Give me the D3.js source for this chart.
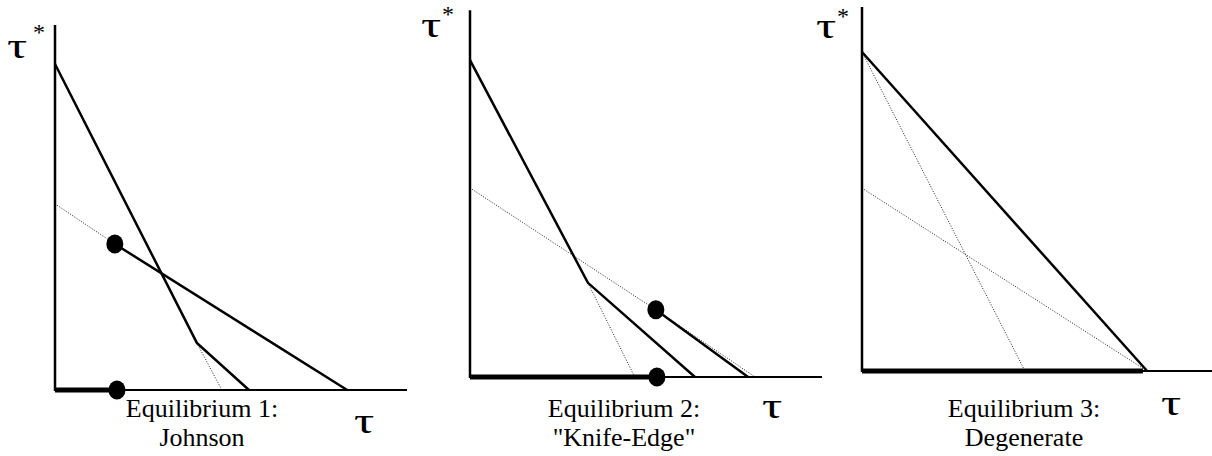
<!DOCTYPE html>
<html>
<head>
<meta charset="utf-8">
<script src="https://cdn.jsdelivr.net/npm/d3@7"></script>
<style>
  html, body { margin: 0; padding: 0; background: #fff; }
  svg { display: block; }
</style>
</head>
<body>
<div id="vis"></div>
<script>
const svgWidth = 1212;
const svgHeight = 456;
const FONT = '"Liberation Serif"';

// captions under each panel
const captionTop = ['Equilibrium 1:', 'Equilibrium 2:', 'Equilibrium 3:'];
const captionBottom = ['Johnson', '"Knife-Edge"', 'Degenerate'];

// height of the vertical axis (data units, 0..100 scale)
const axisTops = [100, 100.5, 99.7];

// solid best-response lines, per panel
const solidLines = [
  [[[0, 89.3], [40.3, 12.9], [55.1, 0]], [[17.0, 40.0], [83.0, 0]]],
  [[[0, 86.8], [33.5, 25.8], [63.9, 0]], [[52.8, 18.4], [79.0, 0]]],
  [[[0, 87.4], [81.0, 0]]],
];

// dotted lines, per panel
const dottedLines = [
  [[[0, 51.0], [17.0, 40.0]], [[40.3, 12.9], [47.4, 0]], [[60, 14.2], [83.0, 0]]],
  [[[0, 51.8], [52.8, 18.4]], [[33.5, 25.8], [46.8, 0]], [[52.8, 18.4], [81.0, 0]]],
  [[[0, 87.4], [46.3, 0]], [[0, 50.1], [81.0, 0]]],
];

// thick segment on the tau axis (end value)
const thickEnds = [17.6, 53.1, 79.8];

// equilibrium dots, per panel
const dots = [
  [[17.0, 40.0], [17.6, 0]],
  [[52.8, 18.4], [53.1, 0]],
  [],
];

// where each panel's origin sits on the page
const panelOrigins = [[55, 390], [470, 377], [862, 371]];
const captionX = [202, 624, 1024];
const tauLabel = [[354, 433], [762, 418], [1161, 415]];
const tauYLabel = [[7, 58], [421, 37], [816, 38]];
const starLabel = [[33, 40], [442, 22], [837, 24]];

const x = d3.scaleLinear().domain([0, 100]).range([0, 352]);
const y = d3.scaleLinear().domain([0, 100]).range([365, 0]);

const line = d3.line().x((d) => x(d[0])).y((d) => y(d[1]));

const svg = d3.select('#vis').append('svg')
  .attr('width', svgWidth)
  .attr('height', svgHeight);

// tau is drawn a bit wider, like the symbol font of the original
const addTau = (pos) =>
  svg.append('text')
    .attr('transform', `translate(${pos[0]},${pos[1]}) scale(1.4,1)`)
    .style('font-family', FONT)
    .style('font-size', '36px')
    .text('τ');

panelOrigins.forEach(([ox, oy], i) => {
  const g = svg.append('g').attr('transform', `translate(${ox},${oy - 365})`);

  // dotted guides first so the solid lines sit on top
  g.selectAll('path.dotted')
    .data(dottedLines[i])
    .join('path')
    .attr('class', 'dotted')
    .attr('d', line)
    .attr('fill', 'none')
    .attr('stroke', '#222')
    .attr('stroke-width', 1)
    .attr('stroke-dasharray', '1,1.6');

  // axes
  g.append('line')
    .attr('x1', x(0)).attr('x2', x(0))
    .attr('y1', y(0) + 1).attr('y2', y(axisTops[i]))
    .attr('stroke', '#000').attr('stroke-width', 2.5);
  g.append('line')
    .attr('x1', x(0)).attr('x2', x(100))
    .attr('y1', y(0)).attr('y2', y(0))
    .attr('stroke', '#000').attr('stroke-width', 2);

  // thick part of the tau axis
  g.append('line')
    .attr('x1', x(0)).attr('x2', x(thickEnds[i]))
    .attr('y1', y(0)).attr('y2', y(0))
    .attr('stroke', '#000').attr('stroke-width', 5);

  g.selectAll('path.solid')
    .data(solidLines[i])
    .join('path')
    .attr('class', 'solid')
    .attr('d', line)
    .attr('fill', 'none')
    .attr('stroke', '#000')
    .attr('stroke-width', 2.5);

  g.selectAll('ellipse')
    .data(dots[i])
    .join('ellipse')
    .attr('cx', (d) => x(d[0]))
    .attr('cy', (d) => y(d[1]))
    .attr('rx', 8.5)
    .attr('ry', 9.5)
    .attr('fill', '#000');

  // captions
  const cap = svg.append('text')
    .attr('x', captionX[i])
    .attr('y', 417)
    .attr('text-anchor', 'middle')
    .style('font-family', FONT)
    .style('font-size', '26px');
  cap.append('tspan').attr('x', captionX[i]).text(captionTop[i]);
  cap.append('tspan').attr('x', captionX[i]).attr('dy', 29).text(captionBottom[i]);

  // axis labels
  addTau(tauLabel[i]);
  addTau(tauYLabel[i]);
  svg.append('text')
    .attr('x', starLabel[i][0])
    .attr('y', starLabel[i][1])
    .style('font-family', FONT)
    .style('font-size', '24px')
    .text('*');
});
</script>
</body>
</html>
